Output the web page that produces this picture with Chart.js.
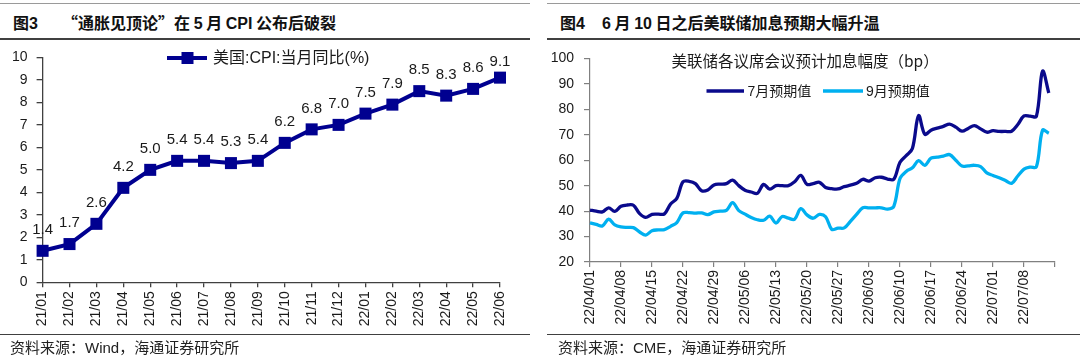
<!DOCTYPE html>
<html lang="zh-CN"><head><meta charset="utf-8">
<script src="https://cdn.jsdelivr.net/npm/chart.js@4.4.1/dist/chart.umd.min.js"></script>
<style>
html,body{margin:0;padding:0;background:#fff;width:1080px;height:357px;overflow:hidden;}
.abs{position:absolute;}
.rule{position:absolute;height:0;}
.title{position:absolute;height:22px;line-height:22px;font-family:"Noto Sans CJK SC",sans-serif;font-weight:bold;font-size:16px;color:#111;white-space:nowrap;}
.title .lat{font-family:"Liberation Sans",Arial,sans-serif;font-weight:bold;}
.src{position:absolute;height:20px;line-height:20px;font-family:"Noto Sans CJK SC",sans-serif;font-size:15px;color:#222;white-space:nowrap;}
.src .lat{font-family:"Liberation Sans",Arial,sans-serif;}
canvas{position:absolute;}
</style>
</head>
<body>
<!-- left panel -->
<div class="rule" style="left:0;width:530px;top:3px;border-top:1px solid #9a9a9a"></div>
<div class="title" style="left:13px;top:11px">图<span class="lat">3</span></div>
<div class="title" style="left:62px;top:11px">“通胀见顶论”在 <span class="lat">5</span> 月 <span class="lat">CPI</span> 公布后破裂</div>
<div class="rule" style="left:0;width:530px;top:38px;border-top:2px solid #404040"></div>
<div class="abs" style="left:0;top:40px;width:535px;height:295px"><canvas id="c1" width="535" height="295"></canvas></div>
<div class="rule" style="left:0;width:530px;top:334px;border-top:1px solid #404040"></div>
<div class="src" style="left:10px;top:337px">资料来源：<span class="lat">Wind</span>，海通证券研究所</div>

<!-- right panel -->
<div class="rule" style="left:547px;width:533px;top:3px;border-top:1px solid #9a9a9a"></div>
<div class="title" style="left:560px;top:11px">图<span class="lat">4</span></div>
<div class="title" style="left:602px;top:11px"><span class="lat">6</span> 月 <span class="lat">10</span> 日之后美联储加息预期大幅升温</div>
<div class="rule" style="left:547px;width:533px;top:38px;border-top:2px solid #404040"></div>
<div class="abs" style="left:540px;top:40px;width:540px;height:295px"><canvas id="c2" width="540" height="295"></canvas></div>
<div class="rule" style="left:547px;width:533px;top:334px;border-top:1px solid #404040"></div>
<div class="src" style="left:558px;top:337px">资料来源：<span class="lat">CME</span>，海通证券研究所</div>

<script>
// ---------- data: left chart ----------
const cpiMonths = ['21/01','21/02','21/03','21/04','21/05','21/06','21/07','21/08','21/09','21/10','21/11','21/12','22/01','22/02','22/03','22/04','22/05','22/06'];
const cpiValues = [1.4,1.7,2.6,4.2,5.0,5.4,5.4,5.3,5.4,6.2,6.8,7.0,7.5,7.9,8.5,8.3,8.6,9.1];
const cpiSeriesName = '美国:CPI:当月同比(%)';
const cpiYTicks = [0,1,2,3,4,5,6,7,8,9,10];

// ---------- data: right chart ----------
const dateTicks = ['22/04/01','22/04/08','22/04/15','22/04/22','22/04/29','22/05/06','22/05/13','22/05/20','22/05/27','22/06/03','22/06/10','22/06/17','22/06/24','22/07/01','22/07/08',''];
const julyName = '7月预期值';
const septName = '9月预期值';
const julyExp = [40.4,40.0,39.7,41.3,39.9,41.9,42.4,42.3,39.0,37.5,38.7,38.8,38.9,42.8,45.0,51.5,51.7,50.8,48.0,48.3,
  50.3,50.6,50.8,52.2,50.0,48.2,47.5,47.0,50.5,48.6,50.0,50.0,50.0,51.5,54.0,50.5,50.8,51.3,49.3,48.8,
  48.7,49.6,50.2,50.9,52.5,51.8,53.1,53.3,52.6,52.5,59.2,61.8,64.6,77.5,70.2,71.8,72.6,73.3,74.2,73.0,
  71.4,72.5,73.6,72.3,71.0,71.6,71.3,71.3,71.4,74.0,77.4,77.3,77.2,95.0,86.4];
const septExp = [35.4,34.8,34.2,36.8,34.6,33.8,33.6,33.5,31.8,30.6,32.3,32.6,32.7,34.0,35.5,39.3,39.4,39.2,39.3,38.6,
  39.7,40.0,40.3,43.3,40.2,38.8,37.5,36.6,36.4,38.0,35.3,37.9,37.2,36.8,41.0,38.5,37.2,38.7,37.8,32.8,
  33.3,33.4,36.0,38.7,41.3,41.3,41.3,41.3,40.8,41.9,52.8,55.6,57.0,59.8,58.0,60.8,61.2,61.6,62.2,60.0,
  57.7,57.8,58.0,57.5,55.0,54.0,53.1,52.0,50.9,53.8,56.5,57.3,57.4,71.8,70.6];
const rightTitle = '美联储各议席会议预计加息幅度（bp）';

const LAT = '"Liberation Sans", Arial, sans-serif';
const CJK = '"Noto Sans CJK SC", sans-serif';
Chart.defaults.font.family = LAT;
Chart.defaults.color = '#1a1a1a';
Chart.defaults.animation = false;

const navy = '#000090';
const axisCol = '#404040';

// ---------- left chart ----------
const leftExtras = {
  id: 'leftExtras',
  afterDatasetsDraw(chart) {
    const ctx = chart.ctx, area = chart.chartArea;
    const meta = chart.getDatasetMeta(0);
    ctx.save();
    ctx.font = '15px ' + LAT;
    ctx.fillStyle = '#1a1a1a';
    ctx.textAlign = 'center';
    ctx.textBaseline = 'middle';
    meta.data.forEach((pt, i) => {
      ctx.fillText(cpiValues[i].toFixed(1), pt.x, Math.max(pt.y - 21, area.top + 4));
    });
    // legend
    const ly = 18;
    ctx.strokeStyle = navy; ctx.lineWidth = 4;
    ctx.beginPath(); ctx.moveTo(167, ly); ctx.lineTo(207, ly); ctx.stroke();
    ctx.fillStyle = navy; ctx.fillRect(181.5, ly - 6, 12, 12);
    ctx.fillStyle = '#1a1a1a';
    ctx.textAlign = 'left';
    ctx.font = '16px ' + LAT + ', ' + CJK;
    ctx.fillText(cpiSeriesName, 213, ly + 1);
    ctx.restore();
  }
};

new Chart(document.getElementById('c1'), {
  type: 'line',
  data: {
    labels: cpiMonths,
    datasets: [{
      label: cpiSeriesName,
      data: cpiValues,
      borderColor: navy,
      backgroundColor: navy,
      borderWidth: 4,
      pointStyle: 'rect',
      pointRadius: 8.5,
      pointBorderWidth: 0,
      tension: 0,
      clip: false
    }]
  },
  options: {
    responsive: false,
    layout: { padding: { top: 8.3, right: 35, left: 0, bottom: 0 } },
    plugins: { legend: { display: false }, tooltip: { enabled: false } },
    scales: {
      x: {
        type: 'category',
        offset: false,
        afterFit(s) { s.height = 52.7; },
        border: { display: true, color: axisCol, width: 1.3 },
        grid: { display: true, drawOnChartArea: false, drawTicks: true, tickLength: 5, color: axisCol, lineWidth: 1.3 },
        ticks: { autoSkip: false, maxRotation: 90, minRotation: 90, padding: 4, font: { size: 14 }, color: '#1a1a1a' }
      },
      y: {
        min: 0, max: 10,
        afterFit(s) { s.width = 42.6; },
        afterBuildTicks(s) { s.ticks = cpiYTicks.map(v => ({ value: v })); },
        border: { display: true, color: axisCol, width: 1.3 },
        grid: { display: true, drawOnChartArea: false, drawTicks: true, tickLength: 6, color: axisCol, lineWidth: 1.3 },
        ticks: { padding: 9, font: { size: 14 }, color: '#1a1a1a' }
      }
    }
  },
  plugins: [leftExtras]
});

// ---------- right chart ----------
const darkBlue = '#0a0a8c';
const lightBlue = '#00b0f0';
const rightExtras = {
  id: 'rightExtras',
  afterDatasetsDraw(chart) {
    const ctx = chart.ctx;
    ctx.save();
    ctx.fillStyle = '#1a1a1a';
    ctx.textBaseline = 'middle';
    ctx.textAlign = 'left';
    ctx.font = '15.5px ' + CJK;
    ctx.fillText(rightTitle, 131.5, 21);
    const ly = 51;
    ctx.lineWidth = 3.5;
    ctx.strokeStyle = darkBlue;
    ctx.beginPath(); ctx.moveTo(166.5, ly); ctx.lineTo(204, ly); ctx.stroke();
    ctx.strokeStyle = lightBlue;
    ctx.beginPath(); ctx.moveTo(283, ly); ctx.lineTo(323, ly); ctx.stroke();
    ctx.font = '14px ' + LAT + ', ' + CJK;
    ctx.fillText(julyName, 207.5, ly + 1);
    ctx.fillText(septName, 326, ly + 1);
    ctx.restore();
  }
};

new Chart(document.getElementById('c2'), {
  type: 'line',
  data: {
    datasets: [
      { label: julyName, data: julyExp.map((v, i) => ({ x: i, y: v })), borderColor: darkBlue, borderWidth: 3.3, pointRadius: 0, tension: 0.35, clip: false },
      { label: septName, data: septExp.map((v, i) => ({ x: i, y: v })), borderColor: lightBlue, borderWidth: 3.3, pointRadius: 0, tension: 0.35, clip: false }
    ]
  },
  options: {
    responsive: false,
    layout: { padding: { top: 14, right: 25, left: 0, bottom: 0 } },
    plugins: { legend: { display: false }, tooltip: { enabled: false } },
    scales: {
      x: {
        type: 'linear',
        min: 0, max: (dateTicks.length - 1) * 5,
        afterFit(s) { s.height = 73; },
        afterBuildTicks(s) { s.ticks = dateTicks.map((t, i) => ({ value: i * 5 })); },
        border: { display: true, color: '#808080', width: 1.2 },
        grid: { display: true, drawOnChartArea: false, drawTicks: true, tickLength: 5, color: '#808080', lineWidth: 1.2 },
        ticks: { autoSkip: false, maxRotation: 90, minRotation: 90, padding: 3, font: { size: 14 }, color: '#1a1a1a',
          callback: (v) => dateTicks[Math.round(v / 5)] }
      },
      y: {
        min: 20, max: 100,
        afterFit(s) { s.width = 50; },
        afterBuildTicks(s) { const t = []; for (let v = 20; v <= 100; v += 10) t.push({ value: v }); s.ticks = t; },
        border: { display: true, color: '#808080', width: 1.2 },
        grid: { display: true, drawOnChartArea: false, drawTicks: true, tickLength: 6, color: '#808080', lineWidth: 1.2 },
        ticks: { padding: 10, font: { size: 14 }, color: '#1a1a1a' }
      }
    }
  },
  plugins: [rightExtras]
});
</script>
</body></html>
